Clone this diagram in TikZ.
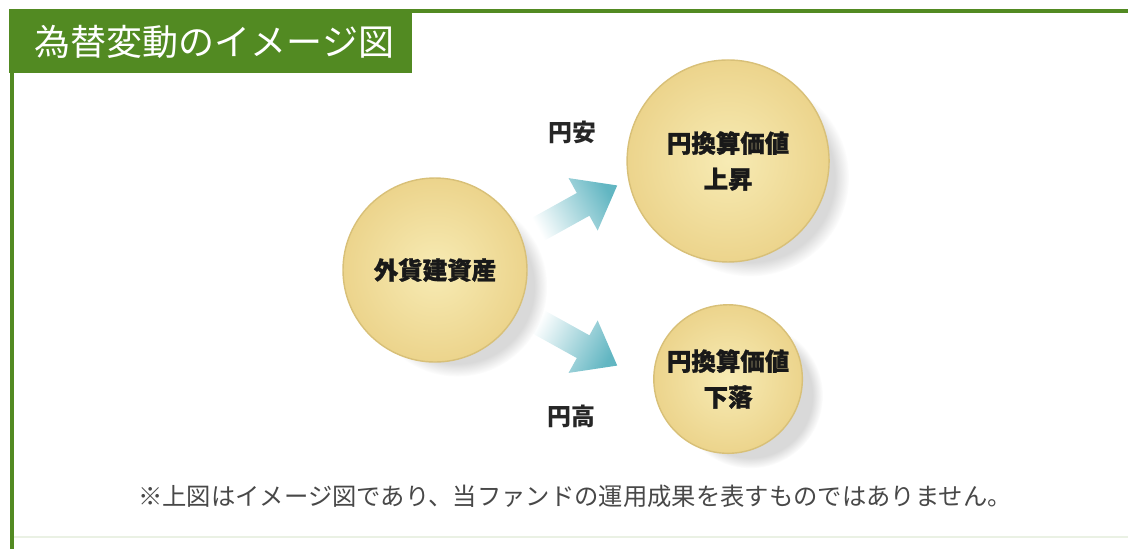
\documentclass[tikz,border=0pt]{standalone}
\usepackage{fontspec}
\setmainfont{Noto Sans CJK JP}
\usetikzlibrary{shadows,positioning}

\definecolor{frameGreen}{RGB}{82,138,34}
\definecolor{ballLight}{RGB}{247,235,180}
\definecolor{ballDark}{RGB}{236,212,140}
\definecolor{ballRim}{RGB}{216,192,120}
\definecolor{arrowTeal}{RGB}{98,182,194}
\definecolor{noteGray}{RGB}{72,72,72}

\tikzset{
  ball/.style={circle, draw=ballRim, line width=1pt, inner color=ballLight, outer color=ballDark,
    circular drop shadow={shadow xshift=16pt, shadow yshift=-12pt, opacity=.3, shadow scale=.98},
    font=\fontsize{17.4}{25.5}\selectfont\bfseries\addfontfeature{FakeBold=1.2}, align=center, text=black!90},
  fatarrow/.style={shading=axis, top color=arrowTeal, middle color=arrowTeal!75, bottom color=white},
  yenlabel/.style={font=\fontsize{17}{20}\selectfont\bfseries, text=black!85}
}

\begin{document}
\begin{tikzpicture}[x=0.025cm, y=-0.025cm, grow=right, level distance=7.325cm, sibling distance=5.45cm,
  edge from parent/.style={draw=none}]
\useasboundingbox (0,0) rectangle (1128,549);

% frame and title
\draw[frameGreen!12, line width=1pt] (12,537) -- (1128,537);
\draw[frameGreen, line width=2.8pt] (1128,11) -- (12,11) -- (12,549);
\fill[frameGreen] (9,9) rectangle (412,73);
\node[anchor=west, text=white, font=\fontsize{25.6}{30}\selectfont] (title) at (30,42) {為替変動のイメージ図};

% fat arrows
\coordinate (yasuTail) at (535,231);
\coordinate (takaTail) at (535,320);
\begin{scope}[shift={(yasuTail)}, rotate=29]
  \shade[fatarrow, shading angle=-61] (0,-13) -- (55,-13) -- (55,-30) -- (94,0) -- (55,30) -- (55,13) -- (0,13) -- cycle;
\end{scope}
\begin{scope}[shift={(takaTail)}, rotate=-29]
  \shade[fatarrow, shading angle=-119] (0,-13) -- (55,-13) -- (55,-30) -- (94,0) -- (55,30) -- (55,13) -- (0,13) -- cycle;
\end{scope}

\node[ball, minimum size=184*0.025cm] (asset) at (435,270) {外貨建資産}
    child {node[ball, minimum size=146*0.025cm] (down) {円換算価値\\下落}
        edge from parent node[yenlabel, xshift=-12.8pt, yshift=-63pt] (taka) {円高}
    }
    child {node[ball, minimum size=202*0.025cm] (up) {円換算価値\\上昇}
        edge from parent node[yenlabel, xshift=-3.6pt, yshift=60pt] (yasu) {円安}
    };

% note
\node[text=noteGray, font=\fontsize{17.3}{20}\selectfont] (note) at (575,496) {※上図はイメージ図であり、当ファンドの運用成果を表すものではありません。};
\end{tikzpicture}
\end{document}
